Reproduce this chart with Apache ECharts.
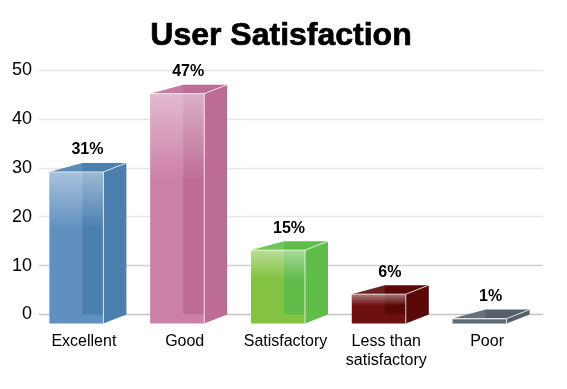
<!DOCTYPE html>
<html><head><meta charset="utf-8">
<style>html,body{margin:0;padding:0;background:#fff}#c{width:567px;height:389px}</style>
<script src="https://cdn.jsdelivr.net/npm/echarts@6/dist/echarts.min.js"></script>
</head><body><div id="c"></div>
<script>
const title = 'User Satisfaction';
const categories = ['Excellent', 'Good', 'Satisfactory', 'Less than\nsatisfactory', 'Poor'];
const values = [31, 47, 15, 6, 1];
const valueTicks = [0, 10, 20, 30, 40, 50];
const faceColor = ['#6090bf', '#cb80a6', '#84c341', '#6f1010', '#5f6975'];
const sideColor = ['#4a7fae', '#bd6d95', '#61bd4a', '#5a0808', '#56606c'];

const chart = echarts.init(document.getElementById('c'), null, {renderer: 'canvas'});
const DX = 23, DY = 9, W = 54, LEFT = 40;

function renderItem(params, api) {
  const i = api.value(0), v = api.value(1);
  const top = api.coord([i, v]), base = api.coord([i, 0]);
  const x0 = top[0] - LEFT, x1 = x0 + W;
  const yT = top[1] + DY, yB = base[1] + DY;
  const poly = (pts, fill) => ({type: 'polygon', shape: {points: pts}, style: {fill}, silent: true});
  const edge = (a, b) => ({type: 'line', shape: {x1: a[0], y1: a[1], x2: b[0], y2: b[1]},
    style: {stroke: 'rgba(255,255,255,0.75)', lineWidth: 1}, silent: true});
  const gloss = new echarts.graphic.LinearGradient(0, 0, 0, 1, [
    {offset: 0, color: 'rgba(255,255,255,0.45)'},
    {offset: 0.38, color: 'rgba(255,255,255,0)'},
    {offset: 1, color: 'rgba(255,255,255,0)'}
  ]);
  return {type: 'group', children: [
    poly([[x0, yT], [x0 + 33, yT - DY], [x1 + DX, yT - DY], [x1, yT]], sideColor[i]),
    poly([[x0, yT], [x0 + 33, yT - DY], [x0 + 33, yT]], 'rgba(255,255,255,0.1)'),
    poly([[x1, yT], [x1 + DX, yT - DY], [x1 + DX, yB - DY], [x1, yB]], sideColor[i]),
    {type: 'rect', shape: {x: x0, y: yT, width: W, height: yB - yT}, style: {fill: faceColor[i]}, silent: true},
    {type: 'rect', shape: {x: x0 + 33, y: yT, width: W - 33, height: Math.max(yB - DY - yT, 0)}, style: {fill: sideColor[i]}, silent: true},
    {type: 'rect', shape: {x: x0, y: yT, width: W, height: yB - yT}, style: {fill: gloss}, silent: true},
    edge([x0, yT], [x1, yT]),
    edge([x1, yT], [x1, yB]),
    edge([x1, yT], [x1 + DX, yT - DY]),
    {type: 'text', style: {text: v + '%', x: x0 + 38, y: yT - DY - 13, align: 'center', verticalAlign: 'middle',
      font: 'bold 16px "Liberation Sans",sans-serif', fill: '#000'}, silent: true}
  ]};
}

chart.setOption({
  animation: false,
  backgroundColor: '#fff',
  title: {text: title, left: 276, top: 15, textAlign: 'center',
    textStyle: {fontFamily: 'Liberation Sans', fontWeight: 'bold', fontSize: 32, color: '#000',
      textBorderColor: '#000', textBorderWidth: 0.7}},
  grid: {left: 39, top: 70, width: 504, height: 244.5},
  xAxis: {type: 'category', data: categories,
    axisLine: {show: false}, axisTick: {show: false},
    axisLabel: {interval: 0, margin: 18, padding: [0, 11, 0, 0], fontFamily: 'Liberation Sans', fontSize: 16, lineHeight: 19, color: '#000'}},
  yAxis: {type: 'value', min: 0, max: 50, interval: 10,
    axisLine: {show: false}, axisTick: {show: false},
    axisLabel: {margin: 7, fontFamily: 'Liberation Sans', fontSize: 18, color: '#000',
      formatter: v => valueTicks.includes(v) ? String(v) : ''},
    splitLine: {show: true, lineStyle: {width: 1.4, color: ['#c4c4c4', '#d0d0d0', '#e6e6e6', '#e6e6e6', '#e6e6e6', '#e6e6e6']}}},
  series: [{type: 'custom', coordinateSystem: 'cartesian2d', renderItem, clip: false,
    encode: {x: 0, y: 1},
    data: values.map((v, i) => [i, v])}]
});
</script></body></html>
